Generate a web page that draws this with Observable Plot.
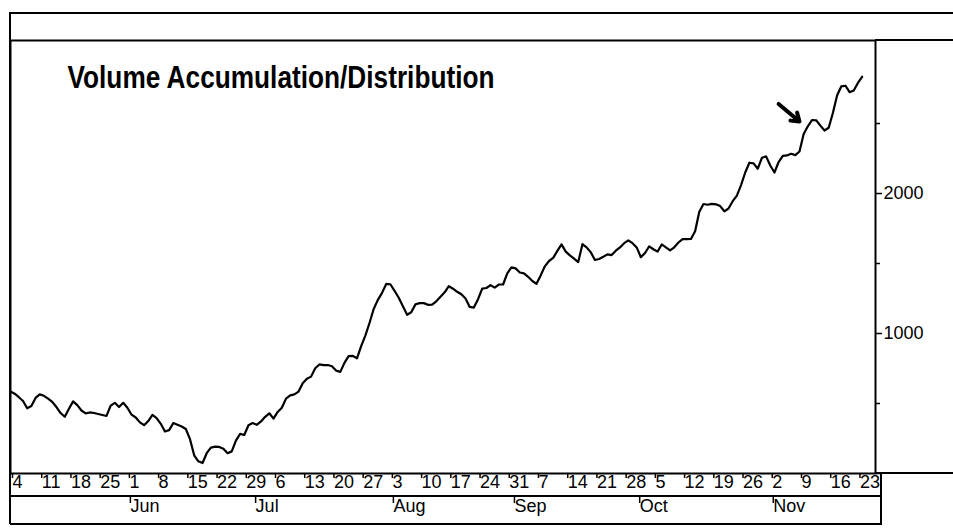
<!DOCTYPE html>
<html><head><meta charset="utf-8">
<script src="https://cdn.jsdelivr.net/npm/d3@7"></script>
<script src="https://cdn.jsdelivr.net/npm/@observablehq/plot@0.6"></script>
<style>
html,body{margin:0;padding:0;background:#fff;}
#wrap{position:relative;width:953px;height:529px;overflow:hidden;background:#fff;}
#wrap svg{position:absolute;left:0;top:0;}
.ln{position:absolute;background:#000;}
</style></head><body>
<div id="wrap"></div>
<script>
// ---- data ----
const startDate = "1998-05-04"; // first daily value
const adValues = [
586,570,545,518,466,482,540,565,555,535,512,475,432,405,463,515,488,450,430,436,
432,425,418,411,485,505,475,505,470,420,400,365,345,375,418,395,355,300,310,360,
348,336,318,245,130,87,75,145,185,192,190,177,145,158,235,283,275,345,360,348,
372,405,430,392,440,470,535,558,565,585,645,677,692,752,779,774,775,766,735,726,
790,838,840,823,910,985,1075,1175,1240,1290,1354,1352,1305,1255,1195,1134,1152,1208,1217,1217,
1205,1206,1230,1263,1294,1338,1320,1298,1280,1250,1190,1185,1245,1320,1325,1345,1328,1350,1350,1430,
1473,1465,1436,1430,1405,1375,1355,1415,1480,1518,1540,1590,1637,1585,1558,1535,1510,1638,1615,1580,
1525,1532,1548,1565,1560,1592,1615,1645,1665,1645,1615,1545,1575,1623,1602,1585,1636,1615,1594,1616,
1650,1674,1674,1675,1730,1870,1925,1920,1926,1923,1910,1873,1893,1945,1985,2060,2150,2220,2215,2177,
2255,2265,2200,2150,2225,2269,2272,2284,2274,2300,2425,2480,2525,2523,2485,2450,2470,2575,2700,2765,
2770,2724,2736,2790,2834
];
const weekTicks = ["1998-05-04","1998-05-11","1998-05-18","1998-05-25","1998-06-01","1998-06-08","1998-06-15",
"1998-06-22","1998-06-29","1998-07-06","1998-07-13","1998-07-20","1998-07-27","1998-08-03","1998-08-10",
"1998-08-17","1998-08-24","1998-08-31","1998-09-07","1998-09-14","1998-09-21","1998-09-28","1998-10-05",
"1998-10-12","1998-10-19","1998-10-26","1998-11-02","1998-11-09","1998-11-16","1998-11-23"];
const monthTicks = ["1998-06-01","1998-07-01","1998-08-03","1998-09-01","1998-10-01","1998-11-02"];
const monthLabels = ["Jun","Jul","Aug","Sep","Oct","Nov"];
const yMajorTicks = [1000, 2000];
const yMinorTicks = [0, 500, 1500, 2500];
const xDomain = ["1998-05-04", "1998-11-27T05:00Z"];
const yDomain = [0, 3093];
const titleText = "Volume Accumulation/Distribution";
const arrowFrom = {date: "1998-11-04", value: 2640};
const arrowTo = {date: "1998-11-09", value: 2515};

// ---- build ----
const t0 = new Date(startDate);
const data = adValues.map((v, i) => ({date: d3.utcDay.offset(t0, i), value: v}));
const weekDates = weekTicks.map(d => new Date(d));
const monthDates = monthTicks.map(d => new Date(d));
const FONT = '"Liberation Sans",Arial,Helvetica,sans-serif';

const chart = Plot.plot({
  width: 953, height: 529,
  marginLeft: 10, marginRight: 78, marginTop: 40, marginBottom: 56,
  style: {fontFamily: FONT, background: "transparent", color: "#000", overflow: "visible"},
  x: {type: "utc", domain: xDomain.map(d => new Date(d))},
  y: {domain: yDomain},
  marks: [
    Plot.line(data, {x: "date", y: "value", stroke: "#000", strokeWidth: 2.2, strokeLinejoin: "round"}),
    Plot.axisX(weekDates, {anchor: "bottom", tickSize: 5, tickPadding: -3, textAnchor: "start", dx: 2,
      tickFormat: d => String(d.getUTCDate()), fontSize: 18, label: null, strokeWidth: 1.5}),
    Plot.axisX(monthDates, {anchor: "bottom", tickSize: 7, tickPadding: -4, textAnchor: "start", dx: 3, dy: 23,
      tickFormat: d => monthLabels[monthDates.findIndex(m => +m === +d)], fontSize: 18, label: null, strokeWidth: 1.5}),
    Plot.axisY(yMajorTicks, {anchor: "right", tickSize: 6, tickPadding: 2, fontSize: 18,
      tickFormat: d => String(d), label: null, strokeWidth: 1.5}),
    Plot.axisY(yMinorTicks, {anchor: "right", tickSize: 4, tickFormat: () => "", label: null, strokeWidth: 1.5}),
    Plot.frame({stroke: "#000", strokeWidth: 2}),
    Plot.text([titleText], {frameAnchor: "top-left", dx: 57, dy: 25, lineAnchor: "top", textAnchor: "start",
      fontSize: 31, fontWeight: "bold", fill: "#000"}),
    Plot.arrow([arrowFrom], {x1: d => new Date(d.date), y1: "value",
      x2: () => new Date(arrowTo.date), y2: () => arrowTo.value,
      stroke: "#000", strokeWidth: 4, headLength: 9, headAngle: 70})
  ]
});

d3.select(chart).selectAll("text").filter(function(){ return this.textContent === titleText; })
  .attr("textLength", 427).attr("lengthAdjust", "spacingAndGlyphs");

const wrap = document.getElementById("wrap");
wrap.appendChild(chart);
// surrounding box chrome of the printed chart
const chrome = [
  [10, 12, 943, 2], [875, 39, 78, 2], [9, 12, 2, 512], [875, 472, 78, 2],
  [880, 473, 2, 52], [10, 495, 871, 2], [10, 523, 871, 2]
];
for (const [l, t, w, h] of chrome) {
  const d = document.createElement("div");
  d.className = "ln";
  Object.assign(d.style, {left: l + "px", top: t + "px", width: w + "px", height: h + "px"});
  wrap.appendChild(d);
}
</script>
</body></html>
